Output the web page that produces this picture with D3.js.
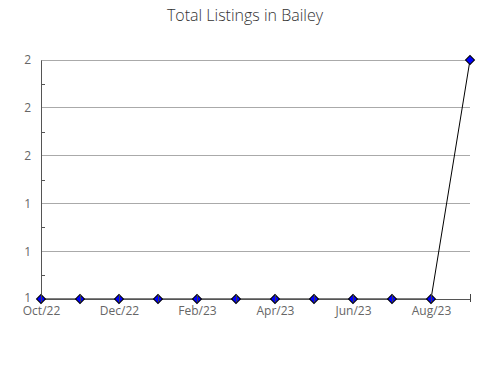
<!DOCTYPE html>
<meta charset="utf-8">
<html>
  <head>
    <style>
      body { margin: 0; background: #fff; }
      text { font-family: "Open Sans", sans-serif; }
    </style>
    <script src="https://d3js.org/d3.v7.min.js"></script>
  </head>
  <body>
<div id="chart"></div>
<script>

// data
var months = ["Oct/22", "Nov/22", "Dec/22", "Jan/23", "Feb/23", "Mar/23",
              "Apr/23", "May/23", "Jun/23", "Jul/23", "Aug/23", "Sep/23"];
var listings = [1, 1, 1, 1, 1, 1, 1, 1, 1, 1, 1, 2];
var yTicks = [1, 1.2, 1.4, 1.6, 1.8, 2];
var yMinor = [1.1, 1.3, 1.5, 1.7, 1.9];

var margin = {top: 60, right: 20, bottom: 81, left: 41},
  width = 490 - margin.left - margin.right,
  height = 380 - margin.top - margin.bottom;

var svg = d3.select("#chart")
  .append("svg")
  .attr("width", 490)
  .attr("height", 380);

svg.append("text")
  .attr("x", 245)
  .attr("y", 21)
  .attr("text-anchor", "middle")
  .style("font-size", "16px")
  .style("font-weight", "300")
  .style("fill", "#333")
  .text("Total Listings in Bailey");

var g = svg.append("g")
  .attr("transform", "translate(" + margin.left + "," + margin.top + ")");

var x = d3.scalePoint().domain(months).range([0, width]);
var y = d3.scaleLinear().domain([1, 2]).range([height, 0]);

// gridlines
g.selectAll(".grid")
  .data(yTicks.slice(1))
  .enter().append("line")
  .attr("x1", 0).attr("x2", width)
  .attr("y1", d => y(d)).attr("y2", d => y(d))
  .attr("stroke", "#aaa").attr("stroke-width", 1)
  .attr("shape-rendering", "crispEdges");

// y axis
var yAxis = g.append("g")
  .call(d3.axisLeft(y).tickValues(yTicks).tickSize(0).tickPadding(10)
    .tickFormat(d3.format(".0f")));
yAxis.select(".domain").attr("stroke", "#555");
yAxis.selectAll("text").style("font-size", "12px").style("fill", "#666")
  .style("font-family", "'Open Sans', sans-serif");
yAxis.selectAll(".tick text").filter(d => d === 1).attr("dy", "0.2em");

// y minor ticks (inside)
g.selectAll(".minor")
  .data(yMinor)
  .enter().append("line")
  .attr("x1", 0).attr("x2", 4)
  .attr("y1", d => Math.round(y(d)) + 0.5).attr("y2", d => Math.round(y(d)) + 0.5)
  .attr("stroke", "#555");

// line
g.append("path")
  .datum(listings)
  .attr("fill", "none")
  .attr("stroke", "#000")
  .attr("stroke-width", 1)
  .attr("d", d3.line().x((d, i) => x(months[i])).y(d => y(d)));

// x axis
var xAxis = g.append("g")
  .attr("transform", "translate(0," + height + ")")
  .call(d3.axisBottom(x).tickSize(0).tickPadding(7)
    .tickFormat((d, i) => i % 2 === 0 ? d : ""));
xAxis.select(".domain").attr("stroke", "#555");
xAxis.selectAll("text").style("font-size", "12px").style("fill", "#666")
  .style("font-family", "'Open Sans', sans-serif");

// markers
g.selectAll(".pt")
  .data(listings)
  .enter().append("path")
  .attr("transform", (d, i) => "translate(" + x(months[i]) + "," + y(d) + ") rotate(45)")
  .attr("d", d3.symbol().type(d3.symbolSquare).size(40))
  .attr("fill", "#0000ff")
  .attr("stroke", "#000")
  .attr("stroke-width", 1);

// inner ticks over markers
g.selectAll(".xt")
  .data(months)
  .enter().append("line")
  .attr("x1", d => Math.round(x(d)) + 0.5).attr("x2", d => Math.round(x(d)) + 0.5)
  .attr("y1", height - 5).attr("y2", height + 3)
  .attr("stroke", "#444");

</script>
</body>
</html>
